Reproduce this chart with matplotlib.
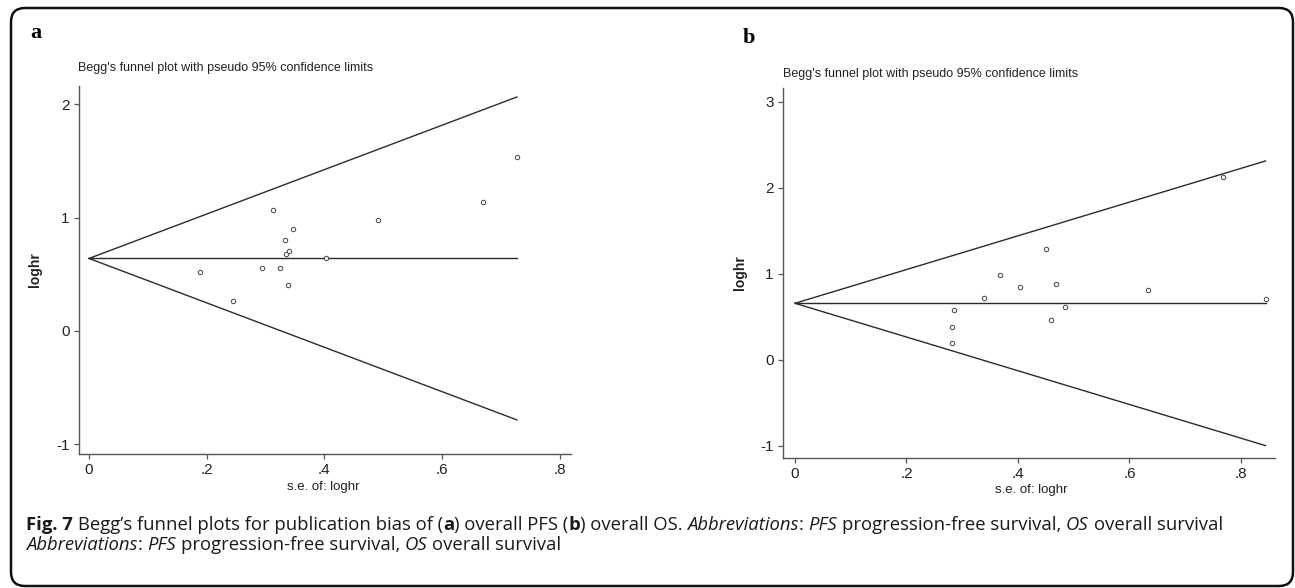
"""
Begg's funnel plots (Fig. 7): (a) overall PFS, (b) overall OS.
"""

import matplotlib
matplotlib.use("Agg")
import matplotlib.pyplot as plt
import matplotlib.patches as mpatches
from matplotlib.transforms import IdentityTransform
import numpy as np

# ---- data ----
pfs_se = [0.189, 0.244, 0.294, 0.312, 0.325, 0.333, 0.335, 0.339, 0.338, 0.347,
          0.403, 0.491, 0.669, 0.727]
pfs_loghr = [0.524, 0.265, 0.559, 1.065, 0.559, 0.806, 0.682, 0.709, 0.406, 0.900,
             0.644, 0.979, 1.138, 1.538]
pfs_pooled = 0.64

os_se = [0.281, 0.282, 0.285, 0.339, 0.368, 0.403, 0.451, 0.459, 0.468, 0.485,
         0.634, 0.767, 0.844]
os_loghr = [0.192, 0.377, 0.581, 0.715, 0.985, 0.850, 1.288, 0.462, 0.885, 0.612,
            0.812, 2.131, 0.708]
os_pooled = 0.658

W, H = 1295, 588
PLOT_FONT = ["Liberation Sans", "DejaVu Sans"]
CAP_FONT = ["Open Sans", "Noto Sans", "DejaVu Sans"]
LINE_C = "#2b2b2b"
AXIS_C = "#555555"
TEXT_C = "#222222"

fig = plt.figure(figsize=(W / 100, H / 100), dpi=100)
px = IdentityTransform()


def ax_rect(left, top, right, bottom):
    return [left / W, 1 - bottom / H, (right - left) / W, (bottom - top) / H]


def funnel(ax, se, loghr, pooled, xlim, ylim, yticks):
    se_max = max(se)
    xs = np.array([0, se_max])
    ax.plot(xs, pooled + 1.96 * xs, color=LINE_C, lw=1.0)
    ax.plot(xs, pooled - 1.96 * xs, color=LINE_C, lw=1.0)
    ax.plot(xs, [pooled, pooled], color=LINE_C, lw=1.0)
    ax.plot(se, loghr, ls="none", marker="o", ms=3.2, mfc="white",
            mec="#444444", mew=0.7)
    ax.set_xlim(*xlim)
    ax.set_ylim(*ylim)
    ax.set_xticks([0, 0.2, 0.4, 0.6, 0.8])
    ax.set_xticklabels(["0", ".2", ".4", ".6", ".8"])
    ax.set_yticks(yticks)
    ax.set_yticklabels([str(t) for t in yticks])
    for side in ("top", "right"):
        ax.spines[side].set_visible(False)
    for side in ("left", "bottom"):
        ax.spines[side].set_color(AXIS_C)
        ax.spines[side].set_linewidth(1.0)
    ax.tick_params(direction="out", length=3.8, width=0.9, color=AXIS_C,
                   labelsize=11, pad=3)
    for lab in ax.get_xticklabels() + ax.get_yticklabels():
        lab.set_family(PLOT_FONT)
        lab.set_color(TEXT_C)


# panel a
ax_a = fig.add_axes(ax_rect(79, 86, 571, 454))
funnel(ax_a, pfs_se, pfs_loghr, pfs_pooled, (-0.017, 0.819), (-1.086, 2.162),
       [-1, 0, 1, 2])

# panel b
ax_b = fig.add_axes(ax_rect(783, 88, 1275, 458))
funnel(ax_b, os_se, os_loghr, os_pooled, (-0.0215, 0.861), (-1.14, 3.16),
       [-1, 0, 1, 2, 3])

# panel letters, titles and axis labels
for x, y, s in [(30, 38, "a"), (743, 43, "b")]:
    fig.text(x, H - y, s, transform=px, family="Liberation Serif",
             weight="bold", fontsize=16, va="baseline")
for x, y in [(78, 71), (783, 77)]:
    fig.text(x, H - y, "Begg's funnel plot with pseudo 95% confidence limits",
             transform=px, family=PLOT_FONT, fontsize=9, va="baseline",
             color=TEXT_C)
for x, y in [(35, 270), (740, 273)]:
    fig.text(x, H - y, "loghr", transform=px, family=PLOT_FONT, fontsize=10,
             rotation=90, ha="center", va="center", weight="bold",
             color=TEXT_C)
for x, y in [(323, 487), (1031, 490)]:
    fig.text(x, H - y, "s.e. of: loghr", transform=px, family=PLOT_FONT,
             fontsize=9.5, ha="center", va="center", color=TEXT_C)

# rounded frame around the whole figure
frame = mpatches.FancyBboxPatch((11, H - 586), 1282, 578,
                                boxstyle="round,pad=0,rounding_size=14",
                                transform=px, fill=False, edgecolor="#111111",
                                linewidth=1.8)
fig.add_artist(frame)

# caption in mixed styles, placed run by run
line1 = [("Fig. 7", "bold", "normal", True),
         ("Begg\u2019s funnel plots for publication bias of (", "normal", "normal", False),
         ("a", "bold", "normal", False),
         (") overall PFS (", "normal", "normal", False),
         ("b", "bold", "normal", False),
         (") overall OS.", "normal", "normal", True),
         ("Abbreviations", "normal", "italic", False),
         (":", "normal", "normal", True),
         ("PFS", "normal", "italic", True),
         ("progression-free survival,", "normal", "normal", True),
         ("OS", "normal", "italic", True),
         ("overall survival", "normal", "normal", False)]
line2 = line1[6:]

renderer = fig.canvas.get_renderer()


def width_of(s, size, weight="normal", style="normal"):
    t = fig.text(0, 0, s, transform=px, family=CAP_FONT, fontsize=size,
                 weight=weight, style=style)
    w = t.get_window_extent(renderer).width
    t.remove()
    return w


def put_runs(x, y, runs, size, draw=True):
    space = width_of("n n", size) - width_of("nn", size)
    for s, weight, style, sp in runs:
        if draw:
            fig.text(x, y, s, transform=px, family=CAP_FONT, fontsize=size,
                     weight=weight, style=style, va="baseline", color="#1a1a1a")
        x += width_of(s, size, weight, style)
        if sp:
            x += space
    return x


trial = 11.0
end = put_runs(26, 0, line1, trial, draw=False)
cap_size = trial * (1220 - 26) / (end - 26)
put_runs(26, H - 530, line1, cap_size)
put_runs(26, H - 550, line2, cap_size)

fig.savefig("out.png", dpi=100)
